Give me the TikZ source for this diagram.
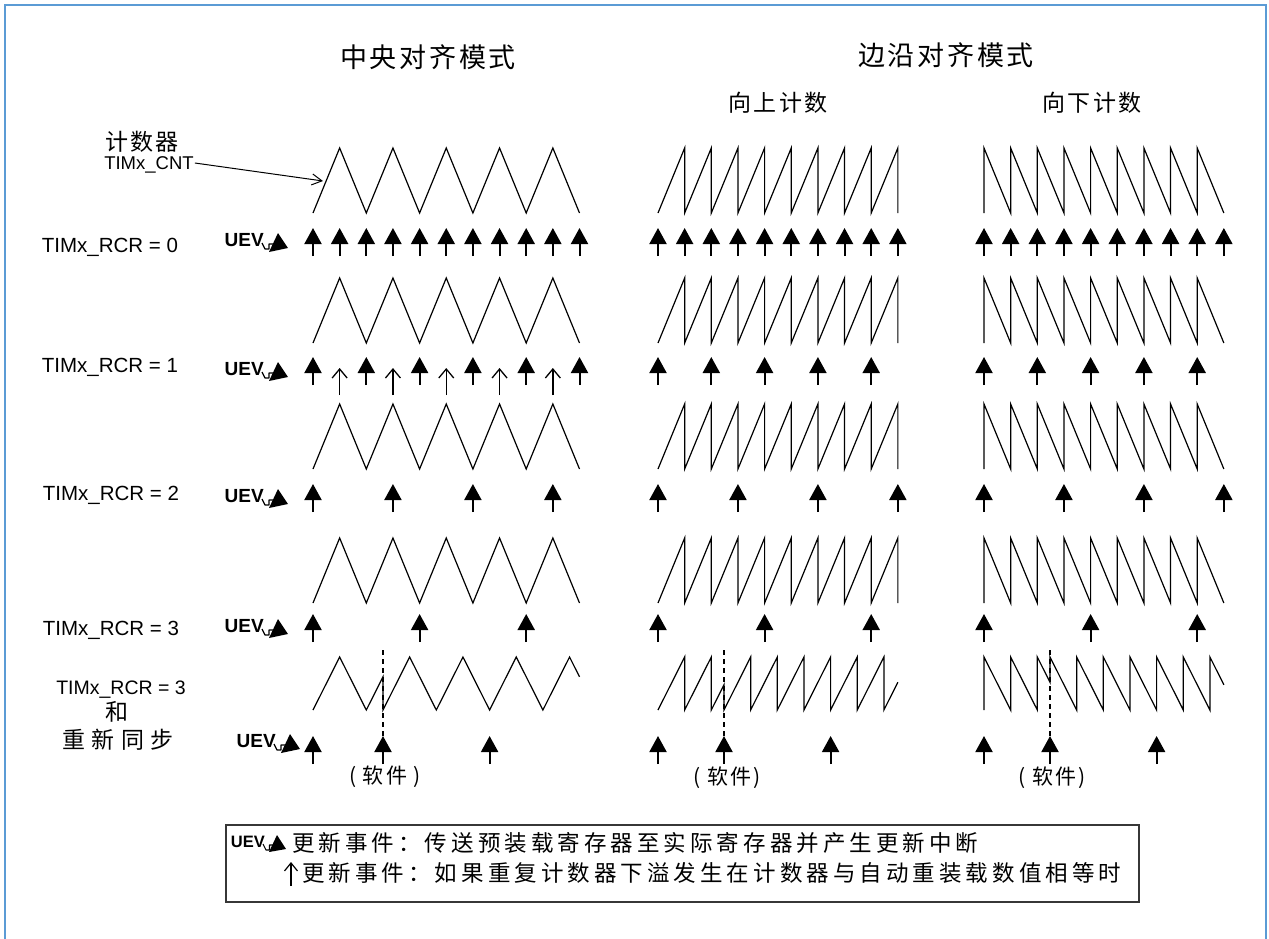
\documentclass[tikz,border=0pt]{standalone}
\usepackage{fontspec}
\setmainfont{Liberation Sans}
\newfontfamily\cjkS{Noto Sans CJK SC}[LetterSpace=10]
\newfontfamily\cjkM{Noto Sans CJK SC}[LetterSpace=18]
\newfontfamily\cjkW{Noto Sans CJK SC}[LetterSpace=28]
\usetikzlibrary{arrows.meta}
\definecolor{frameblue}{RGB}{91,155,213}
\definecolor{boxgray}{RGB}{55,55,55}
\newcommand\centerwave[2]{\draw[wave] (313,#2) \foreach \i in {0,...,4}{ -- ({339.65+53.3*\i},#1) -- ({366.3+53.3*\i},#2)};}
\newcommand\upsaw[2]{\draw[wave] (658,#2) \foreach \i in {1,...,9}{ -- ({658+26.65*\i},#1) -- ({658+26.65*\i},#2)};}
\newcommand\downsaw[2]{\draw[wave] (984,#2) -- (984,#1) \foreach \i in {1,...,8}{ -- ({984+26.65*\i},#2) -- ({984+26.65*\i},#1)} -- ({984+26.65*9},#2);}
\begin{document}
\begin{tikzpicture}[x=1pt,y=-1pt,
  wave/.style={line width=1.2pt, line join=miter},
  lab/.style={font=\fontsize{20.5}{24}\selectfont, inner sep=0},
  ttl/.style={font=\cjkS\fontsize{27}{32}\selectfont, inner sep=0},
  sub/.style={font=\cjkS\fontsize{23}{27}\selectfont, inner sep=0},
  cjklab/.style={font=\cjkS\fontsize{23}{27}\selectfont, inner sep=0},
  sw/.style={font=\cjkS\fontsize{21}{25}\selectfont, inner sep=0},
  leg/.style={font=\cjkM\fontsize{22.5}{26}\selectfont, inner sep=0, anchor=west},
  ev/.pic={\draw[line width=2pt,-{Triangle[length=16pt,width=17pt]}] (0,0) -- (0,-28);},
  evs/.pic={\draw[line width=1.3pt,-{Straight Barb[length=9pt,width=15pt]}] (0,0) -- (0,-27);},
  uevsym/.pic={
    \node[font=\bfseries\fontsize{19}{19}\selectfont, anchor=base east, inner sep=0] (-t) at (-24,-2) {UEV};
    \draw[line width=1.2pt, line join=round] (-26,-5) -- (-23,1) -- (-19,1) -- (-19,-4) -- (-13,-4);
    \fill (0,0) -- (-10,-15) -- (-19,4) -- cycle;
  },
  uevleg/.pic={
    \node[font=\bfseries\fontsize{16.5}{17}\selectfont, anchor=base east, inner sep=0] (-t) at (-21,-2) {UEV};
    \draw[line width=1.1pt, line join=round] (-23,-5) -- (-20,1) -- (-16.5,1) -- (-16.5,-4) -- (-12,-4);
    \fill (0,0) -- (-9,-14) -- (-17,3) -- cycle;
  }
]
\useasboundingbox (0,0) rectangle (1269,938);
\fill[white] (0,0) rectangle (1269,938);
\draw[frameblue, line width=2pt] (5,940) -- (5,5) -- (1266,5) -- (1266,940);

% titles
\node[ttl] (t1) at (428,57) {中央对齐模式};
\node[ttl] (t2) at (946,55) {边沿对齐模式};
\node[sub] (t3) at (778,103) {向上计数};
\node[sub] (t4) at (1092,103) {向下计数};

% counter label
\node[cjklab] (cntzh) at (142,142) {计数器};
\node[font=\fontsize{18.5}{20}\selectfont, inner sep=1pt] (cnt) at (149,165) {TIMx\_CNT};
\coordinate (cnttgt) at (323,181);
\draw[line width=1pt,-{Straight Barb[length=10pt,width=11pt]}] (cnt.east) ++(0,-2) -- (cnttgt);

% row labels
\node[lab] (r0) at (110,247) {TIMx\_RCR = 0};
\node[lab] (r1) at (110,367) {TIMx\_RCR = 1};
\node[lab] (r2) at (111,495) {TIMx\_RCR = 2};
\node[lab] (r3) at (111,630) {TIMx\_RCR = 3};
\node[lab, font=\fontsize{19.5}{23}\selectfont] (r4) at (121,690) {TIMx\_RCR = 3};
\node[cjklab] (r4b) at (117,712) {和};
\node[font=\cjkW\fontsize{23}{27}\selectfont, inner sep=0] (r4c) at (118,740) {重新同步};

% UEV symbols
\pic (u0) at (288,248) {uevsym};
\pic (u1) at (288,377) {uevsym};
\pic (u2) at (288,504) {uevsym};
\pic (u3) at (288,634) {uevsym};
\pic (u4) at (300,749) {uevsym};

% row A
\centerwave{148}{213}
\upsaw{148}{213}
\downsaw{148}{213}
\foreach \k in {0,...,10} \pic at ({313+26.65*\k},256) {ev};
\foreach \k in {0,...,9} \pic at ({658+26.65*\k},256) {ev};
\foreach \k in {0,...,9} \pic at ({984+26.65*\k},256) {ev};

% row B
\centerwave{278}{343}
\upsaw{278}{343}
\downsaw{278}{343}
\foreach \k in {0,...,5} \pic at ({313+53.3*\k},385) {ev};
\foreach \k in {0,...,4} \pic at ({339.65+53.3*\k},395) {evs};
\foreach \k in {0,...,4} \pic at ({658+53.3*\k},385) {ev};
\foreach \k in {0,...,4} \pic at ({984+53.3*\k},385) {ev};

% row C
\centerwave{404}{469}
\upsaw{404}{469}
\downsaw{404}{469}
\foreach \k in {0,...,3} \pic at ({313+79.95*\k},512) {ev};
\foreach \k in {0,...,3} \pic at ({658+79.95*\k},512) {ev};
\foreach \k in {0,...,3} \pic at ({984+79.95*\k},512) {ev};

% row D
\centerwave{538}{603}
\upsaw{538}{603}
\downsaw{538}{603}
\foreach \k in {0,...,2} \pic at ({313+106.6*\k},642) {ev};
\foreach \k in {0,...,2} \pic at ({658+106.6*\k},642) {ev};
\foreach \k in {0,...,2} \pic at ({984+106.6*\k},642) {ev};

% row E (resync)
\draw[wave] (313,710) -- (339.65,657) -- (366.3,710) -- (383,676.8) -- (383,710)
  \foreach \i in {0,...,2}{ -- ({409.65+53.3*\i},657) -- ({436.3+53.3*\i},710)}
  -- (569.55,657) -- (579.5,676.8);
\draw[wave] (658,710) -- (684.65,657) -- (684.65,710) -- (711.3,657) -- (711.3,710) -- (724,684.7) -- (724,710)
  \foreach \i in {1,...,6}{ -- ({724+26.65*\i},657) -- ({724+26.65*\i},710)}
  -- (897.9,682.2);
\draw[wave] (984,710) -- (984,657) -- (1010.65,710) -- (1010.65,657) -- (1037.3,710) -- (1037.3,657) -- (1050,682.3) -- (1050,657)
  \foreach \i in {1,...,6}{ -- ({1050+26.65*\i},710) -- ({1050+26.65*\i},657)}
  -- (1223.9,684.8);
\foreach \x in {383,724,1050} \draw[line width=1.2pt, dash pattern=on 5pt off 4pt] (\x,650) -- (\x,736);
\foreach \x in {313,383,489.6,658,724,830.6,984,1050,1156.6} \pic at (\x,764) {ev};
\node[sw] (s1) at (385,777) {( 软件 )};
\node[sw] (s2) at (727,778) {( 软件)};
\node[sw] (s3) at (1052,778) {( 软件)};

% legend
\draw[boxgray, line width=2pt] (226,825) rectangle (1139,902);
\pic (ul) at (286,849) {uevleg};
\node[leg] (l1) at (292,843) {更新事件：传送预装载寄存器至实际寄存器并产生更新中断};
\draw[line width=1.2pt,-{Straight Barb[length=8pt,width=13pt]}] (291,886) -- (291,862);
\node[leg] (l2) at (302,873) {更新事件：如果重复计数器下溢发生在计数器与自动重装载数值相等时};
\end{tikzpicture}
\end{document}
